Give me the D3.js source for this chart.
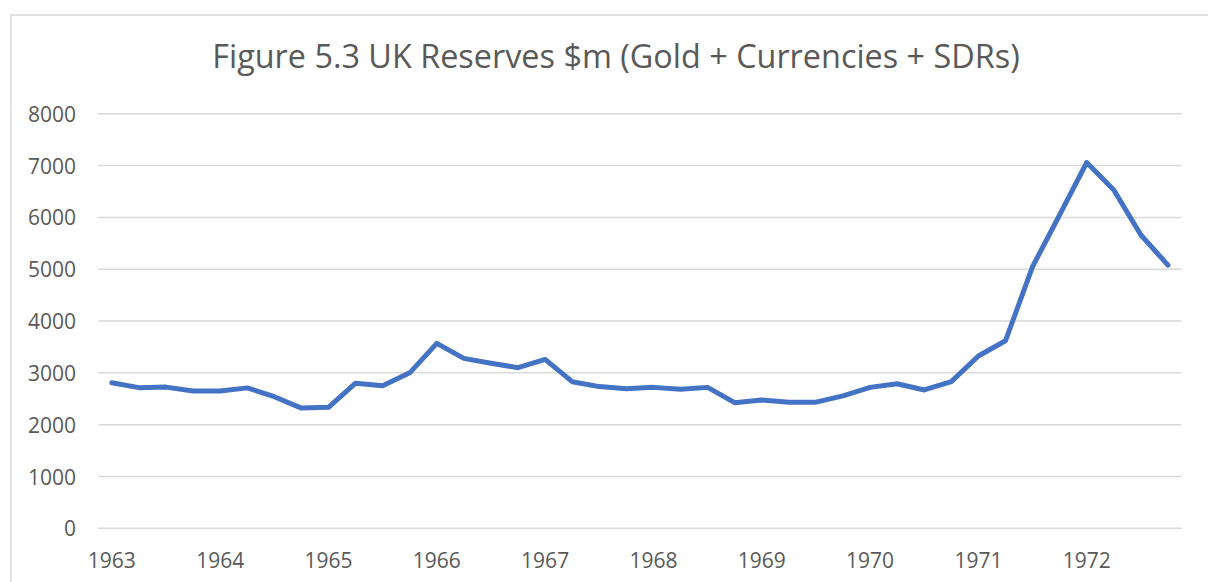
<!DOCTYPE html>
<html>
<head>
<meta charset="utf-8">
<script src="https://cdn.jsdelivr.net/npm/d3@7/dist/d3.min.js"></script>
<style>
  html, body { margin: 0; padding: 0; background: #fff; }
  svg { display: block; }
  text { font-family: "Open Sans", sans-serif; fill: #595959; }
</style>
</head>
<body>
<svg id="chart" width="1208" height="582"></svg>
<script>
const title = "Figure 5.3 UK Reserves $m (Gold + Currencies + SDRs)";
const years = [1963, 1964, 1965, 1966, 1967, 1968, 1969, 1970, 1971, 1972];
const quarters = ["Q1", "Q2", "Q3", "Q4"];
const categories = years.flatMap(y => quarters.map(q => y + " " + q));
const reserves = [
  2810, 2715, 2725, 2650, 2650, 2710, 2540, 2320, 2335, 2800,
  2750, 3000, 3570, 3280, 3185, 3100, 3260, 2830, 2735, 2695,
  2720, 2685, 2720, 2425, 2475, 2435, 2435, 2555, 2720, 2790,
  2670, 2830, 3325, 3620, 5050, 6050, 7060, 6530, 5660, 5080
];
const yTicks = [0, 1000, 2000, 3000, 4000, 5000, 6000, 7000, 8000];

const svg = d3.select("#chart");

// chart frame
svg.append("rect")
  .attr("x", 11).attr("y", 15)
  .attr("width", 1220).attr("height", 600)
  .attr("fill", "#fff")
  .attr("stroke", "#d9d9d9").attr("stroke-width", 1.5);

const plotLeft = 98.3, plotRight = 1181.5, plotTop = 113.8, plotBottom = 528.3;

const x = d3.scaleBand().domain(categories).range([plotLeft, plotRight]);
const y = d3.scaleLinear().domain([0, 8000]).range([plotBottom, plotTop]);

// gridlines
svg.append("g")
  .selectAll("line")
  .data(yTicks)
  .join("line")
  .attr("x1", plotLeft).attr("x2", plotRight)
  .attr("y1", d => y(d)).attr("y2", d => y(d))
  .attr("stroke", "#d9d9d9").attr("stroke-width", 1.5);

// y axis labels
const yAxis = d3.axisLeft(y).tickValues(yTicks).tickFormat(d3.format("d")).tickSize(0).tickPadding(0);
const gy = svg.append("g").attr("transform", `translate(76,0)`).call(yAxis);
gy.select(".domain").remove();
gy.selectAll("text")
  .attr("font-family", "Open Sans, sans-serif")
  .attr("font-size", 21)
  .attr("fill", "#595959")
  .attr("dy", "0.36em");

// x axis labels (every 4th category = Q1 of each year)
const xAxis = d3.axisBottom(x)
  .tickValues(categories.filter((c, i) => i % 4 === 0))
  .tickFormat(c => c.split(" ")[0])
  .tickSize(0).tickPadding(0);
const gx = svg.append("g").attr("transform", `translate(0,${plotBottom})`).call(xAxis);
gx.select(".domain").remove();
gx.selectAll("text")
  .attr("font-family", "Open Sans, sans-serif")
  .attr("font-size", 21)
  .attr("fill", "#595959")
  .attr("y", 40)
  .attr("dy", "0");

// line
const line = d3.line()
  .x((d, i) => x(categories[i]) + x.bandwidth() / 2)
  .y(d => y(d));
svg.append("path")
  .datum(reserves)
  .attr("d", line)
  .attr("fill", "none")
  .attr("stroke", "#4472C4")
  .attr("stroke-width", 5)
  .attr("stroke-linejoin", "round")
  .attr("stroke-linecap", "round");

// title
const t = svg.append("text")
  .attr("x", 616).attr("y", 68)
  .attr("text-anchor", "middle")
  .attr("font-size", 27)
  .attr("fill", "#595959")
  .text(title);
const w = t.node().getComputedTextLength();
t.attr("font-size", 27 * 808 / w);
</script>
</body>
</html>
